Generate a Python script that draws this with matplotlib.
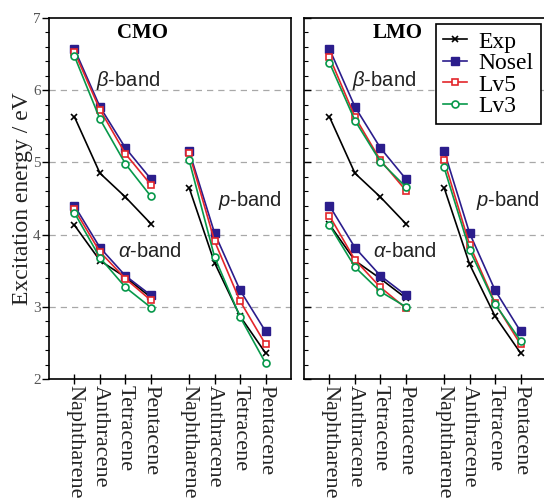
import numpy as np
import matplotlib
matplotlib.use('Agg')
import matplotlib.pyplot as plt
from matplotlib.ticker import MultipleLocator

plt.rcParams['font.family'] = 'Liberation Serif'
plt.rcParams['mathtext.fontset'] = 'custom'
plt.rcParams['mathtext.it'] = 'Liberation Sans:italic'
plt.rcParams['mathtext.rm'] = 'Liberation Sans'

molecules = ['Naphtharene', 'Anthracene', 'Tetracene', 'Pentacene']
methods = ['Exp', 'Nosel', 'Lv5', 'Lv3']

# CMO panel: beta-band, alpha-band, p-band
cmo_beta = {'Exp': [5.63, 4.85, 4.52, 4.15],
            'Nosel': [6.57, 5.77, 5.20, 4.77],
            'Lv5': [6.53, 5.73, 5.12, 4.69],
            'Lv3': [6.47, 5.60, 4.98, 4.53]}
cmo_alpha = {'Exp': [4.13, 3.64, 3.41, 3.13],
             'Nosel': [4.40, 3.82, 3.43, 3.16],
             'Lv5': [4.35, 3.76, 3.39, 3.09],
             'Lv3': [4.30, 3.68, 3.27, 2.99]}
cmo_p = {'Exp': [4.65, 3.61, 2.87, 2.36],
         'Nosel': [5.16, 4.02, 3.23, 2.66],
         'Lv5': [5.13, 3.91, 3.08, 2.48],
         'Lv3': [5.03, 3.69, 2.86, 2.22]}

# LMO panel
lmo_beta = {'Exp': [5.63, 4.85, 4.52, 4.15],
            'Nosel': [6.57, 5.77, 5.20, 4.77],
            'Lv5': [6.46, 5.63, 5.03, 4.61],
            'Lv3': [6.38, 5.58, 5.01, 4.66]}
lmo_alpha = {'Exp': [4.14, 3.64, 3.39, 3.12],
             'Nosel': [4.40, 3.82, 3.43, 3.16],
             'Lv5': [4.26, 3.65, 3.27, 2.98],
             'Lv3': [4.13, 3.55, 3.21, 3.00]}
lmo_p = {'Exp': [4.65, 3.59, 2.87, 2.36],
         'Nosel': [5.16, 4.02, 3.23, 2.66],
         'Lv5': [5.03, 3.86, 3.05, 2.48],
         'Lv3': [4.93, 3.79, 3.04, 2.53]}

styles = {
    'Exp':   dict(color='black', marker='x', mfc='black', ms=4.5, mew=1.2),
    'Nosel': dict(color='#2b1d8c', marker='s', mfc='#2b1d8c', ms=5.5, mew=1.0),
    'Lv5':   dict(color='#e3262b', marker='s', mfc='white', ms=5, mew=1.2),
    'Lv3':   dict(color='#07984a', marker='o', mfc='white', ms=5, mew=1.2),
}

x1 = np.arange(4)
x2 = np.arange(4) + 4.5
xticks = list(x1) + list(x2)

fig = plt.figure(figsize=(5.44, 4.99), dpi=100)
axL = fig.add_axes([49/544, 1-379/499, 242/544, 361/499])
axR = fig.add_axes([304/544, 1-379/499, 242/544, 361/499])

panels = [(axL, 'CMO', cmo_beta, cmo_alpha, cmo_p),
          (axR, 'LMO', lmo_beta, lmo_alpha, lmo_p)]

for ax, title, beta, alpha, pband in panels:
    for yv in [3, 4, 5, 6]:
        ax.axhline(yv, color='#a8a8a8', lw=0.9, ls=(0, (5, 4)), zorder=0)
    for m in methods:
        for xs, d in [(x1, beta), (x1, alpha), (x2, pband)]:
            ax.plot(xs, d[m], lw=1.2, label=m, **styles[m])
    ax.set_xlim(-1, 8.5)
    ax.set_ylim(2, 7)
    ax.set_xticks(xticks)
    ax.set_xticklabels(molecules * 2, rotation=270, fontsize=16, va='top', color='#222222')
    ax.tick_params(axis='x', direction='inout', length=7, width=1.0, pad=1)
    ax.yaxis.set_major_locator(MultipleLocator(1))
    ax.yaxis.set_minor_locator(MultipleLocator(0.2))
    for s in ax.spines.values():
        s.set_linewidth(1.2)
    ax.text(2.68, 6.79, title, fontsize=15, fontweight='bold', ha='center', va='center')
    fam = 'Liberation Sans'
    ax.text(0.86 if title == 'CMO' else 0.90, 6.14, r'$\beta$-band', fontsize=14.5,
            family=fam, ha='left', va='center', color='#222222')
    ax.text(1.72, 3.77, r'$\alpha$-band', fontsize=14.5, family=fam, ha='left',
            va='center', color='#222222')
    ax.text(5.64 if title == 'CMO' else 5.76, 4.47, r'$p$-band', fontsize=14.5,
            family=fam, ha='left', va='center', color='#222222')

axL.tick_params(axis='y', which='major', direction='out', length=5, width=1.0,
                labelsize=11, pad=1, labelcolor='#555555')
axL.tick_params(axis='y', which='minor', direction='out', length=3, width=0.8)
axL.set_ylabel('Excitation energy / eV', fontsize=17, labelpad=0, color='#222222')

axR.tick_params(axis='y', which='major', direction='in', length=5, width=1.0, labelleft=False)
axR.tick_params(axis='y', which='minor', direction='in', length=3, width=0.8)

handles, labels = axR.get_legend_handles_labels()
pick = [labels.index(m) for m in methods]
leg = axR.legend([handles[i] for i in pick], methods, loc='upper right',
                 bbox_to_anchor=(541/544, 1-24/499), bbox_transform=fig.transFigure,
                 borderaxespad=0, fontsize=17, handlelength=1.0, handletextpad=0.5,
                 labelspacing=0.0, borderpad=0.3, fancybox=False, framealpha=1,
                 edgecolor='black')
leg.get_frame().set_linewidth(1.2)

fig.savefig('out.png', dpi=100)
